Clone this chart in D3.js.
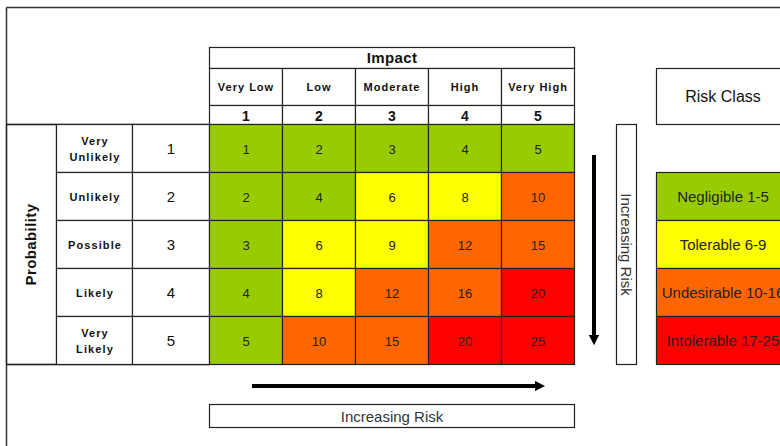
<!DOCTYPE html>
<html>
<head>
<meta charset="utf-8">
<script src="https://cdn.jsdelivr.net/npm/d3@7"></script>
<style>
  body { margin: 0; background: #fff; }
  svg text { font-family: "Liberation Sans", Arial, sans-serif; fill: #111; }
</style>
</head>
<body>
<div id="container"></div>
<script>
// chart data
const impactLabels = ["Very Low", "Low", "Moderate", "High", "Very High"];
const impactScores = [1, 2, 3, 4, 5];
const probLabels = [["Very", "Unlikely"], ["Unlikely"], ["Possible"], ["Likely"], ["Very", "Likely"]];
const probScores = [1, 2, 3, 4, 5];
const riskValues = [
  [1, 2, 3, 4, 5],
  [2, 4, 6, 8, 10],
  [3, 6, 9, 12, 15],
  [4, 8, 12, 16, 20],
  [5, 10, 15, 20, 25]
];
const classNames = ["Negligible 1-5", "Tolerable 6-9", "Undesirable 10-16", "Intolerable 17-25"];
const classBreaks = [6, 10, 17];
const classColors = ["#99cc00", "#ffff00", "#ff6600", "#ff0000"];

const width = 780, height = 446;
const svg = d3.select("#container").append("svg")
    .attr("width", width)
    .attr("height", height);

const line = "#222";

const x = d3.scaleBand().domain(impactScores).range([209.5, 574.5]);
const y = d3.scaleBand().domain(probScores).range([124.5, 364.5]);
const color = d3.scaleThreshold().domain(classBreaks).range(classColors);

// outer frame lines
svg.append("line").attr("x1", 6.5).attr("x2", width).attr("y1", 7.5).attr("y2", 7.5)
    .attr("stroke", "#333").attr("stroke-width", 1.5);
svg.append("line").attr("x1", 6.5).attr("x2", 6.5).attr("y1", 7.5).attr("y2", height)
    .attr("stroke", "#333").attr("stroke-width", 1.5);
svg.append("line").attr("x1", 6.5).attr("x2", 209.5).attr("y1", 124.5).attr("y2", 124.5)
    .attr("stroke", line).attr("stroke-width", 1.5);
svg.append("line").attr("x1", 6.5).attr("x2", 209.5).attr("y1", 364.5).attr("y2", 364.5)
    .attr("stroke", line).attr("stroke-width", 1.5);

// impact header
svg.append("rect").attr("x", x.range()[0]).attr("y", 47.5)
    .attr("width", x.range()[1] - x.range()[0]).attr("height", 21)
    .attr("fill", "#fff").attr("stroke", line).attr("stroke-width", 1.2);
svg.append("text").attr("x", (x.range()[0] + x.range()[1]) / 2).attr("y", 63)
    .attr("text-anchor", "middle").style("font-size", "15px").style("font-weight", "bold")
    .style("letter-spacing", "0.4px").text("Impact");

impactScores.forEach((s, i) => {
  svg.append("rect").attr("x", x(s)).attr("y", 68.5).attr("width", x.bandwidth()).attr("height", 37)
      .attr("fill", "#fff").attr("stroke", line).attr("stroke-width", 1.2);
  svg.append("text").attr("x", x(s) + x.bandwidth() / 2).attr("y", 91)
      .attr("text-anchor", "middle").style("font-size", "11px").style("font-weight", "bold")
      .style("letter-spacing", "1px").text(impactLabels[i]);
  svg.append("rect").attr("x", x(s)).attr("y", 105.5).attr("width", x.bandwidth()).attr("height", 19)
      .attr("fill", "#fff").attr("stroke", line).attr("stroke-width", 1.2);
  svg.append("text").attr("x", x(s) + x.bandwidth() / 2).attr("y", 121)
      .attr("text-anchor", "middle").style("font-size", "14px").style("font-weight", "bold")
      .text(s);
});

// probability side
svg.append("rect").attr("x", 6.5).attr("y", y.range()[0]).attr("width", 50)
    .attr("height", y.range()[1] - y.range()[0])
    .attr("fill", "none").attr("stroke", line).attr("stroke-width", 1.2);
svg.append("text")
    .attr("transform", "translate(36," + (y.range()[0] + y.range()[1]) / 2 + ") rotate(-90)")
    .attr("text-anchor", "middle").style("font-size", "15px").style("font-weight", "bold")
    .style("letter-spacing", "0.4px").text("Probability");

probScores.forEach((s, i) => {
  const cy = y(s) + y.bandwidth() / 2;
  svg.append("rect").attr("x", 56.5).attr("y", y(s)).attr("width", 76).attr("height", y.bandwidth())
      .attr("fill", "#fff").attr("stroke", line).attr("stroke-width", 1.2);
  svg.append("rect").attr("x", 132.5).attr("y", y(s)).attr("width", 77).attr("height", y.bandwidth())
      .attr("fill", "#fff").attr("stroke", line).attr("stroke-width", 1.2);
  const lab = probLabels[i];
  lab.forEach((t, j) => {
    svg.append("text").attr("x", 95).attr("y", cy + 4 + (j - (lab.length - 1) / 2) * 16)
        .attr("text-anchor", "middle").style("font-size", "11px").style("font-weight", "bold")
        .style("letter-spacing", "1.1px").text(t);
  });
  svg.append("text").attr("x", 171).attr("y", cy + 5)
      .attr("text-anchor", "middle").style("font-size", "15px").text(s);
});

// matrix cells
probScores.forEach((p, r) => {
  impactScores.forEach((s, c) => {
    const v = riskValues[r][c];
    svg.append("rect").attr("x", x(s)).attr("y", y(p))
        .attr("width", x.bandwidth()).attr("height", y.bandwidth())
        .attr("fill", color(v)).attr("stroke", line).attr("stroke-width", 1.2);
    svg.append("text").attr("x", x(s) + x.bandwidth() / 2).attr("y", y(p) + y.bandwidth() / 2 + 5)
        .attr("text-anchor", "middle").style("font-size", "13px").style("fill", "#222").text(v);
  });
});

// arrows
const defs = svg.append("defs");
defs.append("marker").attr("id", "head").attr("viewBox", "0 0 10 10")
    .attr("refX", 5).attr("refY", 5).attr("markerWidth", 2.6).attr("markerHeight", 2.6)
    .attr("orient", "auto")
    .append("path").attr("d", "M0,0L10,5L0,10Z").attr("fill", "#000");

svg.append("line").attr("x1", 594).attr("x2", 594).attr("y1", 155).attr("y2", 340)
    .attr("stroke", "#000").attr("stroke-width", 4).attr("marker-end", "url(#head)");
svg.append("line").attr("x1", 252).attr("x2", 540).attr("y1", 386).attr("y2", 386)
    .attr("stroke", "#000").attr("stroke-width", 4).attr("marker-end", "url(#head)");

// increasing risk labels
svg.append("rect").attr("x", 616.5).attr("y", y.range()[0]).attr("width", 20)
    .attr("height", y.range()[1] - y.range()[0])
    .attr("fill", "#fff").attr("stroke", line).attr("stroke-width", 1.2);
svg.append("text")
    .attr("transform", "translate(621," + (y.range()[0] + y.range()[1]) / 2 + ") rotate(90)")
    .attr("text-anchor", "middle").style("font-size", "15px").style("fill", "#333")
    .text("Increasing Risk");

svg.append("rect").attr("x", x.range()[0]).attr("y", 404.5)
    .attr("width", x.range()[1] - x.range()[0]).attr("height", 23)
    .attr("fill", "#fff").attr("stroke", line).attr("stroke-width", 1.2);
svg.append("text").attr("x", (x.range()[0] + x.range()[1]) / 2).attr("y", 421.5)
    .attr("text-anchor", "middle").style("font-size", "15px").style("fill", "#333")
    .text("Increasing Risk");

// risk class legend (runs past the right edge, as in the original)
const ly = d3.scaleBand().domain(classNames).range([y(2), y.range()[1]]);
svg.append("rect").attr("x", 656.5).attr("y", 68.5).attr("width", 140).attr("height", 56)
    .attr("fill", "#fff").attr("stroke", line).attr("stroke-width", 1.2);
svg.append("text").attr("x", 723).attr("y", 102).attr("text-anchor", "middle")
    .style("font-size", "16px").text("Risk Class");

classNames.forEach((n, i) => {
  svg.append("rect").attr("x", 656.5).attr("y", ly(n)).attr("width", 140).attr("height", ly.bandwidth())
      .attr("fill", classColors[i]).attr("stroke", line).attr("stroke-width", 1.2);
  svg.append("text").attr("x", 723).attr("y", ly(n) + ly.bandwidth() / 2 + 5)
      .attr("text-anchor", "middle").style("font-size", "15px").style("fill", "#222").text(n);
});
</script>
</body>
</html>
